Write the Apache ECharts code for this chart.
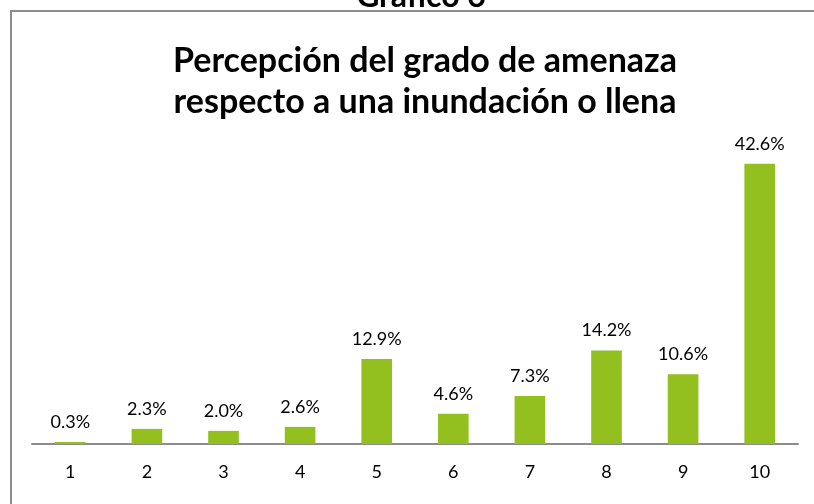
<!DOCTYPE html>
<html>
<head>
<meta charset="utf-8">
<script src="https://cdn.jsdelivr.net/npm/echarts@6/dist/echarts.min.js"></script>
<style>
  html, body { margin: 0; padding: 0; background: #fff; }
  #main { width: 814px; height: 504px; }
</style>
</head>
<body>
<div id="main"></div>
<script>
const categories = ['1', '2', '3', '4', '5', '6', '7', '8', '9', '10']
const percentages = [0.3, 2.3, 2.0, 2.6, 12.9, 4.6, 7.3, 14.2, 10.6, 42.6]

const chart = echarts.init(document.getElementById('main'))
const option = {
  backgroundColor: '#fff',
  textStyle: { fontFamily: 'Lato' },
  graphic: [
    {
      type: 'rect',
      shape: { x: 11, y: 11, width: 820, height: 510 },
      style: { fill: 'none', stroke: '#8c8c8c', lineWidth: 2 },
      z: -1,
    },
    {
      type: 'text',
      x: 421,
      y: 13,
      style: {
        text: 'Gráfico 6',
        font: 'bold 32px Lato',
        fill: '#000',
        align: 'center',
        verticalAlign: 'bottom',
      },
    },
  ],
  title: {
    text: 'Percepción del grado de amenaza\nrespecto a una inundación o llena',
    left: 420,
    top: 36,
    textAlign: 'center',
    textStyle: {
      fontFamily: 'Lato',
      fontWeight: 'bold',
      fontSize: 34,
      lineHeight: 41,
      color: '#000',
    },
  },
  grid: { left: 32, right: 16, top: 115, bottom: 60 },
  xAxis: {
    type: 'category',
    data: categories,
    axisLine: { lineStyle: { color: '#8c8c8c', width: 2 } },
    axisTick: { show: false },
    axisLabel: { color: '#000', fontSize: 18, margin: 19 },
  },
  yAxis: {
    type: 'value',
    min: 0,
    max: 50,
    show: false,
    splitLine: { show: false },
  },
  series: [
    {
      type: 'bar',
      data: percentages,
      barWidth: '40%',
      itemStyle: { color: '#93c01f' },
      label: {
        show: true,
        position: 'top',
        distance: 11,
        color: '#000',
        fontSize: 18,
        formatter: (p) => p.value.toFixed(1) + '%',
      },
    },
  ],
}
chart.setOption(option)
</script>
</body>
</html>
